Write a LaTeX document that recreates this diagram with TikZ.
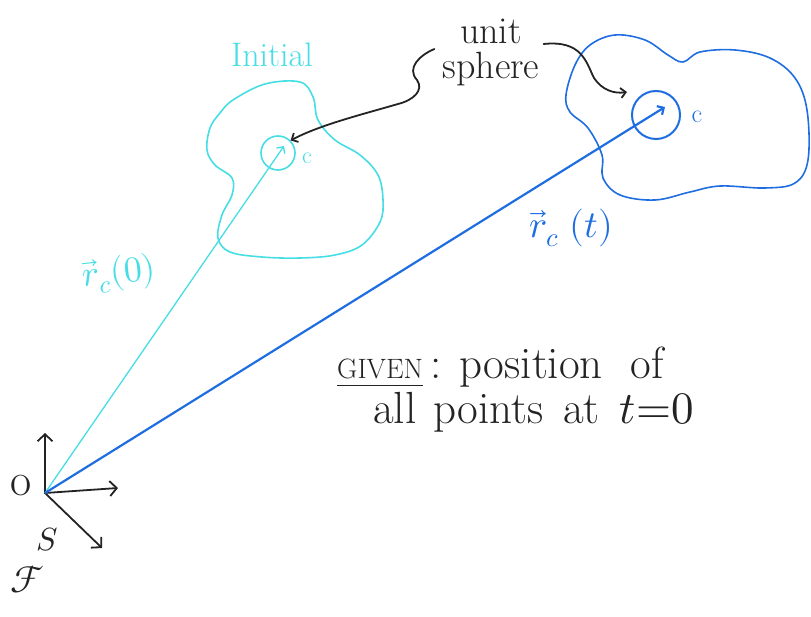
\documentclass[tikz,border=0pt]{standalone}
\usepackage{unicode-math}
\setmainfont{Latin Modern Roman}
\setmathfont{Latin Modern Math}
\usetikzlibrary{arrows.meta, positioning, calc}

\definecolor{initcol}{RGB}{70,222,228}
\definecolor{finalcol}{RGB}{30,110,225}
\definecolor{inkcol}{RGB}{35,35,35}

\begin{document}
\begin{tikzpicture}[
    x=1pt, y=-1pt,
    ink/.style={draw=inkcol, line width=1.8pt, line cap=round, line join=round},
    barb/.style={-{Straight Barb[length=7pt, width=15pt]}},
    smallbarb/.style={-{Straight Barb[length=5pt, width=10pt]}},
    body/.style={draw=#1, line width=1.6pt},
    hand/.style={font=\fontsize{#1}{#1}\selectfont, inner sep=1pt},
    >=Stealth
  ]

  \useasboundingbox (0,0) rectangle (811,617);

  % Origin and frame
  \coordinate (O) at (45,493);
  \coordinate (axup) at (45,433);
  \coordinate (axright) at (118,488);
  \coordinate (axdiag) at (102,548);
  \draw[ink, barb] (O) -- (axup);
  \draw[ink, barb] (O) -- (axright);
  \draw[ink, barb] (O) -- (axdiag);
  \node[hand=46, text=inkcol] (olabel) at (21,486) {o};
  \node[hand=32, text=inkcol] (slabel) at (47,540) {$S$};
  \node[hand=38, text=inkcol] (frame) at (28,580) {$\mathscr{F}$};

  % Initial body
  \draw[body=initcol] plot[smooth cycle, tension=0.6] coordinates {
    (233,100) (265,84) (300,82) (313,97) (318,120) (335,140) (360,155)
    (378,175) (383,200) (380,222) (362,245) (335,255) (300,258) (262,257)
    (230,252) (218,238) (222,215) (232,195) (232,178) (215,165) (207,150)
    (210,128) (220,113)};
  \node[circle, draw=initcol, line width=1.6pt, minimum size=34pt, inner sep=0pt] (ci) at (278,153) {};
  \coordinate (citip) at (284,146);
  \node[hand=34, text=initcol] (initial) at (272,55) {Initial};
  \node[hand=24, text=initcol] (cinit) at (307,158) {c};

  % Current body
  \draw[body=finalcol] plot[smooth cycle, tension=0.6] coordinates {
    (566,95) (575,65) (590,45) (615,35) (645,40) (668,55) (683,62)
    (700,52) (735,50) (770,58) (795,78) (807,110) (808,160) (795,183)
    (765,188) (720,186) (690,192) (655,200) (620,195) (603,178)
    (602,155) (588,128) (570,112)};
  \node[circle, draw=finalcol, line width=2pt, minimum size=48pt, inner sep=0pt] (cf) at (656,115) {};
  \coordinate (cftip) at (665,107);
  \node[hand=26, text=finalcol] (cfinal) at (697,117) {c};

  % Position vectors
  \draw[draw=initcol, line width=1.3pt, smallbarb] (O) -- (citip);
  \draw[draw=finalcol, line width=2.2pt, smallbarb] (O) -- (cftip);
  \node[hand=36, text=initcol, rotate=6] (rinit) at (119,274) {$\vec{r}_c(0)$};
  \node[hand=38, text=finalcol] (rfinal) at (571,228) {$\vec{r}_c\;(t)$};

  % Unit sphere callout
  \node[hand=38, text=inkcol, align=center, inner sep=2pt] (usph) at (491,52) {unit\\[-3pt]sphere};
  \draw[ink, smallbarb] ($(usph.west)+(-6,-3)$)
    .. controls (420,55) and (406,68) .. (417,80)
    .. controls (424,90) and (414,100) .. (398,104)
    .. controls (360,115) and (320,125) .. (ci.north east);
  \draw[ink, smallbarb] ($(usph.east)+(2,-8)$)
    .. controls (582,40) and (586,62) .. (594,78)
    .. controls (602,90) and (614,94) .. (627,92);

  % Given statement
  \node[hand=45, text=inkcol, align=left, anchor=north west] (given) at (336,346)
    {\underline{\fontsize{28}{28}\selectfont GIVEN}\,:\hspace{18pt}position\hspace{28pt}of\\[0pt]
     \hspace*{36pt}all\hspace{17pt}points\hspace{20pt}at\hspace{20pt}$t{=}0$};

\end{tikzpicture}
\end{document}
